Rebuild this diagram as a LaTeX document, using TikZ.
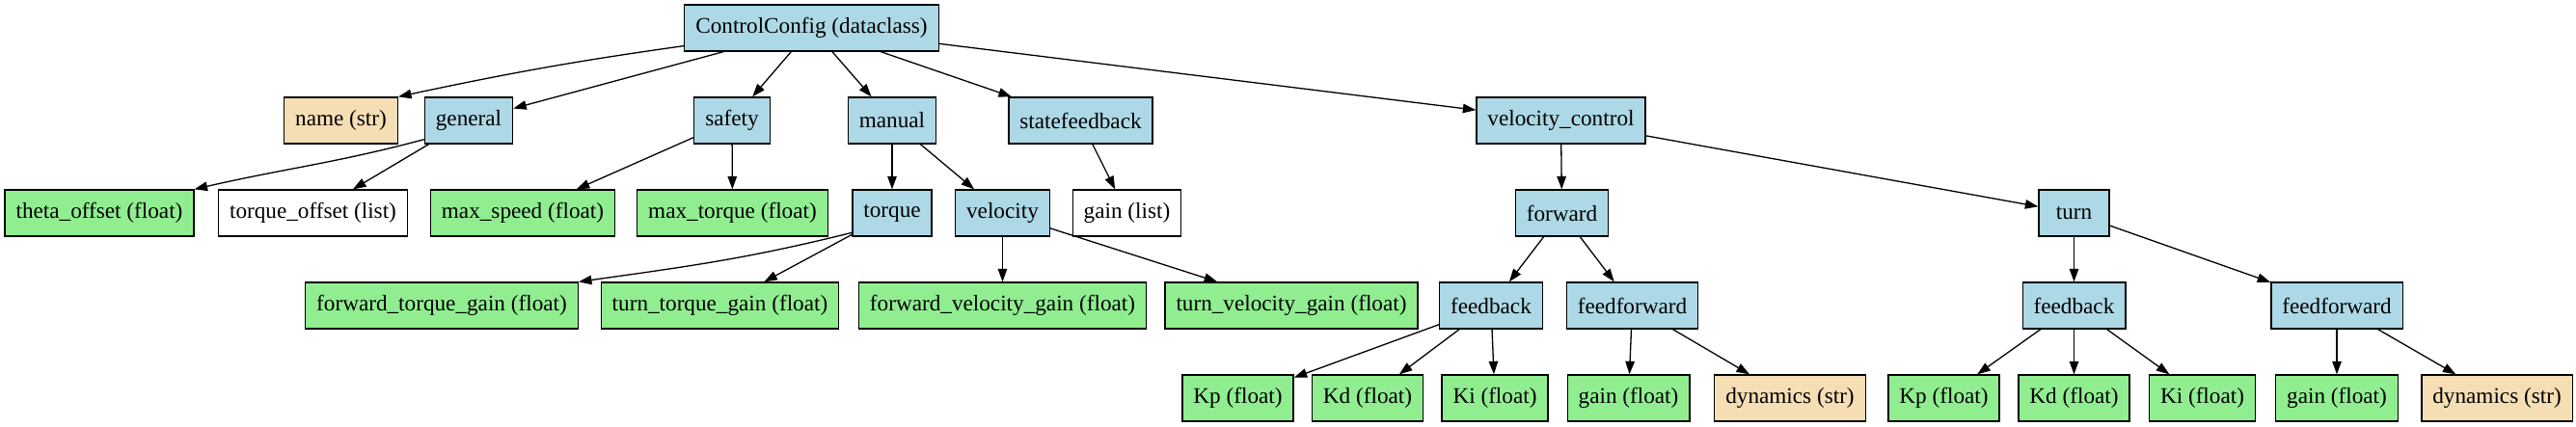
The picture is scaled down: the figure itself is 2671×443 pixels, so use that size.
\documentclass[tikz,border=0pt]{standalone}
\usepackage{fontspec}
\setmainfont{Liberation Serif}
\usetikzlibrary{arrows.meta}

\definecolor{clsblue}{HTML}{ADD8E6}
\definecolor{fltgreen}{HTML}{90EE90}
\definecolor{strwheat}{HTML}{F5DEB3}

\begin{document}
\begin{tikzpicture}[x=0.5pt, y=-0.5pt,
    box/.style={draw, rectangle, line width=0.65pt, minimum height=24pt, minimum width=36.5pt,
      inner xsep=5.75pt, font=\fontsize{11.6}{13}\selectfont},
    clsbox/.style={box, fill=clsblue},
    fltbox/.style={box, fill=fltgreen},
    strbox/.style={box, fill=strwheat},
    lstbox/.style={box, fill=white},
    link/.style={line width=0.65pt, -{Triangle[length=6.75pt, width=4.75pt]}}]

    % Canvas
    \fill[white] (0,0) rectangle (2671,443);
    \useasboundingbox (0,0) rectangle (2671,443);

    % Rows
    \def\rowa{29}
    \def\rowb{125}
    \def\rowc{221}
    \def\rowd{317}
    \def\rowe{413}

    % Root
    \node[clsbox] (cfg) at (841.5,\rowa) {ControlConfig (dataclass)};

    % First level
    \node[strbox] (name) at (353.5,\rowb) {name (str)};
    \node[clsbox] (general) at (486,\rowb) {general};
    \node[clsbox] (safety) at (759,\rowb) {safety};
    \node[clsbox] (manual) at (925,\rowb) {manual};
    \node[clsbox] (statefb) at (1120.5,\rowb) {statefeedback};
    \node[clsbox] (velctrl) at (1618.5,\rowb) {velocity\_control};

    % Second level
    \node[fltbox] (theta) at (103,\rowc) {theta\_offset (float)};
    \node[lstbox] (torqoff) at (324.5,\rowc) {torque\_offset (list)};
    \node[fltbox] (maxspeed) at (542,\rowc) {max\_speed (float)};
    \node[fltbox] (maxtorque) at (759.5,\rowc) {max\_torque (float)};
    \node[clsbox] (torque) at (925,\rowc) {torque};
    \node[clsbox] (velocity) at (1039.5,\rowc) {velocity};
    \node[lstbox] (sfgain) at (1168.5,\rowc) {gain (list)};
    \node[clsbox] (fwd) at (1619.5,\rowc) {forward};
    \node[clsbox] (turn) at (2150.5,\rowc) {turn};

    % Third level
    \node[fltbox] (ftg) at (458,\rowd) {forward\_torque\_gain (float)};
    \node[fltbox] (ttg) at (746.5,\rowd) {turn\_torque\_gain (float)};
    \node[fltbox] (fvg) at (1039.5,\rowd) {forward\_velocity\_gain (float)};
    \node[fltbox] (tvg) at (1339,\rowd) {turn\_velocity\_gain (float)};
    \node[clsbox] (fwdfb) at (1546,\rowd) {feedback};
    \node[clsbox] (fwdff) at (1692.5,\rowd) {feedforward};
    \node[clsbox] (turnfb) at (2150.5,\rowd) {feedback};
    \node[clsbox] (turnff) at (2423,\rowd) {feedforward};

    % Fourth level
    \node[fltbox] (fwdkp) at (1283.5,\rowe) {Kp (float)};
    \node[fltbox] (fwdkd) at (1418,\rowe) {Kd (float)};
    \node[fltbox] (fwdki) at (1550,\rowe) {Ki (float)};
    \node[fltbox] (fwdgain) at (1688.5,\rowe) {gain (float)};
    \node[strbox] (fwddyn) at (1856,\rowe) {dynamics (str)};
    \node[fltbox] (turnkp) at (2015.5,\rowe) {Kp (float)};
    \node[fltbox] (turnkd) at (2150.5,\rowe) {Kd (float)};
    \node[fltbox] (turnki) at (2283.5,\rowe) {Ki (float)};
    \node[fltbox] (turngain) at (2423,\rowe) {gain (float)};
    \node[strbox] (turndyn) at (2589,\rowe) {dynamics (str)};

    % Straight edges
    \foreach \a/\b in {cfg/general, cfg/safety, cfg/manual, cfg/statefb, cfg/velctrl,
      general/torqoff, safety/maxspeed, safety/maxtorque, manual/torque, manual/velocity,
      statefb/sfgain, velctrl/fwd, velctrl/turn, torque/ttg, velocity/fvg, velocity/tvg,
      fwd/fwdfb, fwd/fwdff, turn/turnfb, turn/turnff,
      fwdfb/fwdkp, fwdfb/fwdkd, fwdfb/fwdki, fwdff/fwdgain, fwdff/fwddyn,
      turnfb/turnkp, turnfb/turnkd, turnfb/turnki, turnff/turngain, turnff/turndyn} {
        \draw[link] (\a) -- (\b);
    }

    % Curved edges
    \draw[link] (cfg.188) to[out=188, in=12] (name.north east);
    \draw[link] (general.203) to[out=195, in=13] (theta.north east);
    \draw[link] (torque.206) to[out=194, in=8] (ftg.north east);
\end{tikzpicture}
\end{document}
